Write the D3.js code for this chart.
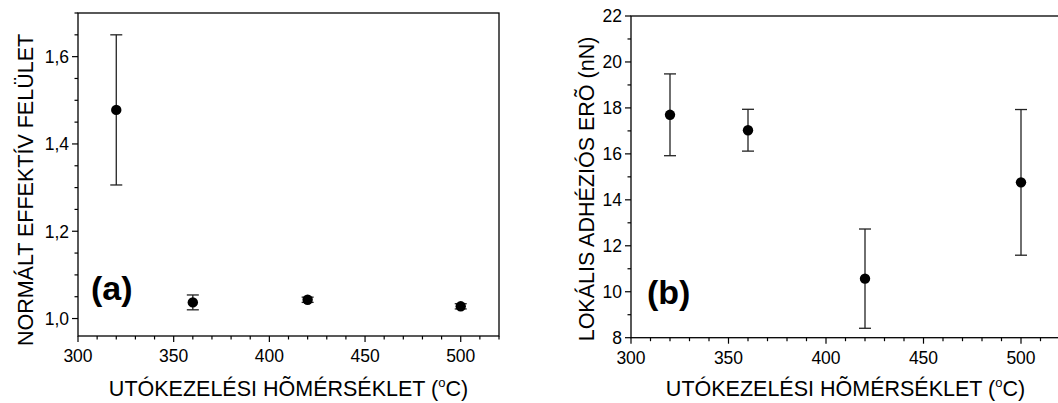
<!DOCTYPE html>
<html lang="hu">
<head>
<meta charset="UTF-8">
<title>Utókezelési hőmérséklet</title>
<script src="https://d3js.org/d3.v7.min.js"></script>
<style>
  body, html { margin: 0; padding: 0; background: #fff; }
  svg { display: block; font-family: "Liberation Sans", Arial, sans-serif; }
</style>
</head>
<body>
<div id="chart"></div>
<script>
// panel (a): normalised effective surface
const tempsA = [320, 360, 420, 500];
const surfA = [1.478, 1.037, 1.043, 1.028];
const surfErrA = [0.172, 0.017, 0.006, 0.006];
const yTicksA = [1.0, 1.2, 1.4, 1.6];

// panel (b): local adhesion force (nN)
const tempsB = [320, 360, 420, 500];
const forceB = [17.70, 17.03, 10.57, 14.76];
const forceErrB = [1.78, 0.91, 2.16, 3.17];
const yTicksB = [8, 10, 12, 14, 16, 18, 20, 22];

const xTicks = [300, 350, 400, 450, 500];
const xLabel = "UTÓKEZELÉSI HÕMÉRSÉKLET (";

const W = 1058, H = 403;
const svg = d3.select("#chart").append("svg")
  .attr("width", W).attr("height", H);

function panel(opt) {
  const g = svg.append("g");
  const x = d3.scaleLinear().domain([300, 520]).range([opt.left, opt.right]);
  const y = d3.scaleLinear().domain(opt.ydom).range([opt.bottom, opt.top]);

  // frame
  g.append("rect")
    .attr("x", opt.left).attr("y", opt.top)
    .attr("width", opt.right - opt.left).attr("height", opt.bottom - opt.top)
    .attr("fill", "none").attr("stroke", "#000").attr("stroke-width", 1.3);

  // x axis
  const xMinor = d3.range(300, 521, 10);
  g.selectAll(".xmin").data(xMinor).enter().append("line")
    .attr("x1", d => x(d)).attr("x2", d => x(d))
    .attr("y1", opt.bottom).attr("y2", d => opt.bottom + (d % 50 === 0 ? 6 : 3.5))
    .attr("stroke", "#000").attr("stroke-width", 1.2);
  g.selectAll(".xlab").data(xTicks).enter().append("text")
    .attr("x", d => x(d)).attr("y", opt.bottom + 26)
    .attr("text-anchor", "middle").attr("font-size", 17.5)
    .text(d => d);

  // y axis
  const yMinor = d3.range(opt.ydom[0] - opt.ydom[0] % opt.minor + (opt.ydom[0] % opt.minor > 1e-9 ? opt.minor : 0),
    opt.ydom[1] + 1e-9, opt.minor);
  g.selectAll(".ymin").data(yMinor).enter().append("line")
    .attr("y1", d => y(d)).attr("y2", d => y(d))
    .attr("x1", opt.left)
    .attr("x2", d => opt.left - (opt.yTicks.some(t => Math.abs(t - d) < 1e-6) ? 6 : 3.5))
    .attr("stroke", "#000").attr("stroke-width", 1.2);
  g.selectAll(".ylab").data(opt.yTicks).enter().append("text")
    .attr("x", opt.left - 9).attr("y", d => y(d) + 6.3)
    .attr("text-anchor", "end").attr("font-size", 17.5)
    .text(opt.fmt);

  // error bars
  const eb = g.selectAll(".eb").data(opt.xs).enter().append("g")
    .attr("stroke", "#222").attr("stroke-width", 1.3);
  eb.append("line")
    .attr("x1", d => x(d)).attr("x2", d => x(d))
    .attr("y1", (d, i) => y(opt.ys[i] + opt.es[i]))
    .attr("y2", (d, i) => y(opt.ys[i] - opt.es[i]));
  eb.append("line")
    .attr("x1", d => x(d) - 6).attr("x2", d => x(d) + 6)
    .attr("y1", (d, i) => y(opt.ys[i] + opt.es[i]))
    .attr("y2", (d, i) => y(opt.ys[i] + opt.es[i]));
  eb.append("line")
    .attr("x1", d => x(d) - 6).attr("x2", d => x(d) + 6)
    .attr("y1", (d, i) => y(opt.ys[i] - opt.es[i]))
    .attr("y2", (d, i) => y(opt.ys[i] - opt.es[i]));

  // points
  g.selectAll(".pt").data(opt.xs).enter().append("circle")
    .attr("cx", d => x(d)).attr("cy", (d, i) => y(opt.ys[i]))
    .attr("r", 5.2).attr("fill", "#000");

  // axis titles
  const xt = g.append("text")
    .attr("x", (opt.left + opt.right) / 2).attr("y", 396)
    .attr("text-anchor", "middle").attr("font-size", 21.5);
  xt.append("tspan").text(xLabel);
  xt.append("tspan").attr("dy", -9).attr("font-size", 13).text("o");
  xt.append("tspan").attr("dy", 9).text("C)");

  g.append("text")
    .attr("transform", `translate(${opt.ytX},${opt.ytY}) rotate(-90)`)
    .attr("text-anchor", "middle").attr("font-size", 21.5)
    .text(opt.ytitle);

  g.append("text")
    .attr("x", opt.tagX).attr("y", opt.tagY)
    .attr("font-size", 34).attr("font-weight", "bold")
    .text(opt.tag);
}

panel({
  left: 78, right: 499, top: 13, bottom: 336,
  ydom: [0.96, 1.70], minor: 0.05, yTicks: yTicksA,
  fmt: d => d.toFixed(1).replace(".", ","),
  xs: tempsA, ys: surfA, es: surfErrA,
  ytitle: "NORMÁLT EFFEKTÍV FELÜLET", ytX: 33, ytY: 190,
  tag: "(a)", tagX: 91, tagY: 300
});

panel({
  left: 631, right: 1060, top: 16, bottom: 337.7,
  ydom: [8, 22], minor: 1, yTicks: yTicksB,
  fmt: d => d,
  xs: tempsB, ys: forceB, es: forceErrB,
  ytitle: "LOKÁLIS ADHÉZIÓS ERÕ (nN)", ytX: 594, ytY: 189,
  tag: "(b)", tagX: 647, tagY: 304
});
</script>
</body>
</html>
